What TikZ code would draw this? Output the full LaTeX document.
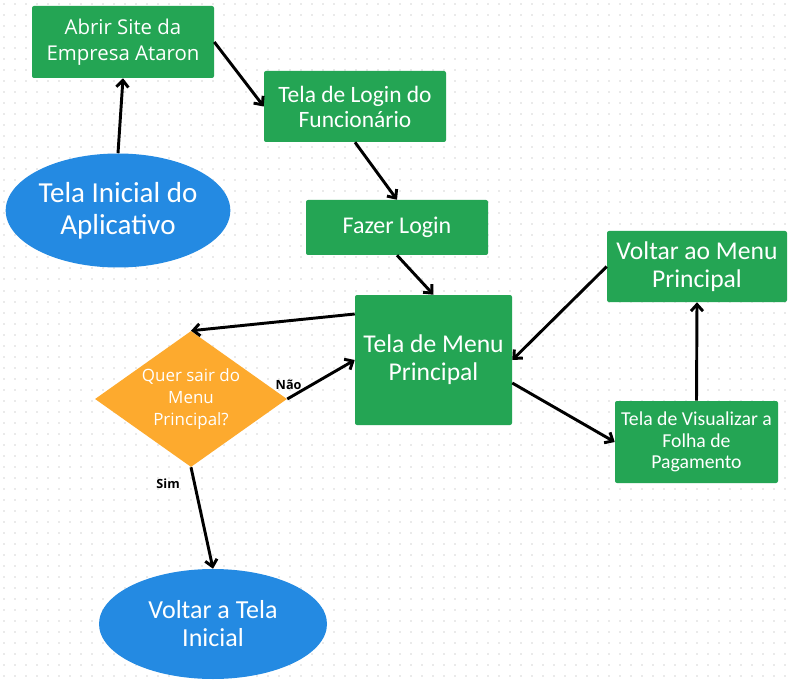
\documentclass[tikz,border=0pt]{standalone}
\usepackage{fontspec}
\setmainfont{Carlito}
\newfontfamily\osans{Open Sans}
\usetikzlibrary{arrows.meta,shapes.geometric}
\definecolor{boxgreen}{RGB}{36,165,84}
\definecolor{ovalblue}{RGB}{36,138,226}
\definecolor{diaorange}{RGB}{253,170,46}
\definecolor{griddot}{RGB}{234,234,234}
\begin{document}
\begin{tikzpicture}[x=0.75pt,y=-0.75pt,
  gbox/.style={fill=boxgreen, rounded corners=1.5pt, text=white, align=center, inner sep=0pt},
  oval/.style={ellipse, fill=ovalblue, text=white, align=center, inner sep=0pt},
  decision/.style={diamond, fill=diaorange, text=white, align=center, inner sep=0pt},
  conn/.style={-{Straight Barb[length=5pt,width=9pt,line width=2.2pt]}, line width=2.2pt, black},
  lbl/.style={font=\osans\bfseries\fontsize{9.5}{11}\selectfont, text=black, inner sep=0pt}
]
\fill[white] (0,0) rectangle (792,684);
\useasboundingbox (0,0) rectangle (792,684);
\foreach \i in {0,...,71}{
  \foreach \j in {0,...,62}{
    \fill[griddot] (2.5+11*\i,3.5+11*\j) rectangle ++(2,2);
  }
}
% nodes
\node[oval, minimum width=166.5pt, minimum height=85.5pt,
  font=\fontsize{21.75}{24}\selectfont] (inicio) at (118,210.5) {Tela Inicial do\\Aplicativo};
\node[gbox, minimum width=136.5pt, minimum height=54pt,
  font=\osans\fontsize{15.3}{19.5}\selectfont] (abrir) at (123,42) {Abrir Site da\\Empresa Ataron};
\node[gbox, minimum width=136.5pt, minimum height=53.25pt,
  font=\fontsize{17.6}{18.75}\selectfont] (login) at (355,106.5) {Tela de Login do\\Funcionário};
\node[gbox, minimum width=136.5pt, minimum height=41.25pt,
  font=\fontsize{18}{20}\selectfont] (fazer) at (397,227.5) {Fazer Login};
\node[gbox, minimum width=117.75pt, minimum height=97.5pt,
  font=\fontsize{19.2}{21}\selectfont] (menu) at (433.5,360) {Tela de Menu\\Principal};
\node[decision, aspect=1.41, minimum width=144pt, minimum height=102pt,
  font=\osans\fontsize{12.7}{16.5}\selectfont] (sair) at (191,399) {Quer sair do\\Menu\\Principal?};
\node[oval, minimum width=171pt, minimum height=82.5pt,
  font=\fontsize{19.5}{21}\selectfont] (voltarini) at (213,624) {Voltar a Tela\\Inicial};
\node[gbox, minimum width=135pt, minimum height=53.25pt,
  font=\fontsize{19.2}{21}\selectfont] (voltarmenu) at (697,266.5) {Voltar ao Menu\\Principal};
\node[gbox, minimum width=122.25pt, minimum height=61.5pt,
  font=\fontsize{14.8}{16.1}\selectfont] (folha) at (696.5,442) {Tela de Visualizar a\\Folha de\\Pagamento};
% connectors
\draw[conn] (inicio.north) -- (abrir.south);
\draw[conn] (abrir.east) -- (login.west);
\draw[conn] (login.south) -- (fazer.north);
\draw[conn] (fazer.south) -- (menu.north);
\draw[conn] ([yshift=34.5pt]menu.west) -- (sair.north);
\draw[conn] (sair.east) -- node[lbl, pos=0.02, above=5pt] {Não} (menu.west);
\draw[conn] (sair.south) -- node[lbl, pos=0.16, left=10pt] {Sim} (voltarini.north);
\draw[conn] ([yshift=-17.25pt]menu.east) -- (folha.west);
\draw[conn] (folha.north) -- (voltarmenu.south);
\draw[conn] (voltarmenu.west) -- (menu.east);
\end{tikzpicture}
\end{document}
